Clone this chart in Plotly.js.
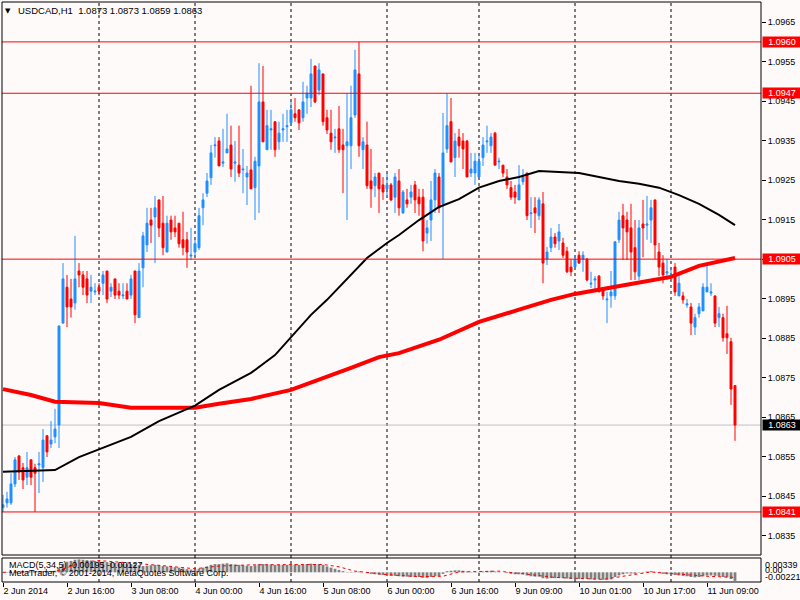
<!DOCTYPE html>
<html>
<head>
<meta charset="utf-8">
<script src="https://cdn.plot.ly/plotly-3.0.1.min.js"></script>
<style>html,body{margin:0;padding:0;background:#fffafa;}#chart{width:800px;height:600px;}</style>
</head>
<body>
<div id="chart"></div>
<script>
// ---- Data: USDCAD H1 bars (bar index 0 = 2 Jun 2014 00:00) ----
const barOpen = [
1.08421,1.08433,1.08433,1.08481,1.08552,1.08522,1.08498,1.08542,1.08522,1.08529,
1.08522,1.08603,1.08582,1.08600,1.08630,1.08888,1.08979,1.08949,1.08939,1.09020,
1.09010,1.09000,1.08969,1.08967,1.08979,1.08989,1.09020,1.08969,1.09000,1.08969,
1.08957,1.08969,1.08959,1.09020,1.08902,1.09028,1.09086,1.09149,1.09157,1.09200,
1.09141,1.09068,1.09149,1.09129,1.09141,1.09099,1.09099,1.09058,1.09068,1.09079,
1.09180,1.09217,1.09256,1.09337,1.09349,1.09293,1.09319,1.09339,1.09293,1.09288,
1.09276,1.09258,1.09276,1.09231,1.09286,1.09448,1.09327,1.09377,1.09398,1.09347,
1.09377,1.09385,1.09395,1.09418,1.09428,1.09408,1.09458,1.09458,1.09539,1.09478,
1.09519,1.09408,1.09369,1.09357,1.09380,1.09339,1.09337,1.09337,1.09415,1.09519,
1.09327,1.09339,1.09248,1.09236,1.09268,1.09238,1.09228,1.09238,1.09207,1.09248,
1.09167,1.09200,1.09207,1.09238,1.09207,1.09207,1.09116,1.09149,1.09200,1.09258,
1.09190,1.09329,1.09398,1.09307,1.09359,1.09349,1.09349,1.09268,1.09268,1.09258,
1.09307,1.09347,1.09337,1.09369,1.09296,1.09288,1.09258,1.09231,1.09220,1.09200,
1.09246,1.09268,1.09165,1.09180,1.09160,1.09190,1.09050,1.09079,1.09106,1.09096,
1.09091,1.09070,1.09030,1.09030,1.09060,1.09050,1.09050,1.08987,1.08997,1.09007,
1.08977,1.08947,1.08957,1.08957,1.09099,1.09160,1.09149,1.09129,1.09079,1.09007,
1.09139,1.09136,1.09149,1.09200,1.09068,1.09040,1.09015,1.09005,1.09030,1.08957,
1.08957,1.08934,1.08929,1.08878,1.08912,1.08919,1.08967,1.08964,1.08957,1.08902,
1.08902,1.08861,1.08841,1.08730];
const barHigh = [
1.08453,1.08461,1.08508,1.08549,1.08552,1.08534,1.08562,1.08542,1.08532,1.08562,
1.08620,1.08603,1.08640,1.08671,1.08881,1.09040,1.09010,1.09000,1.09109,1.09040,
1.09020,1.09020,1.09010,1.08989,1.08989,1.09020,1.09020,1.08989,1.09000,1.08989,
1.08989,1.08989,1.09010,1.09020,1.09040,1.09119,1.09180,1.09180,1.09210,1.09200,
1.09210,1.09160,1.09160,1.09160,1.09141,1.09170,1.09119,1.09129,1.09099,1.09180,
1.09217,1.09268,1.09339,1.09359,1.09359,1.09380,1.09418,1.09388,1.09349,1.09388,
1.09329,1.09286,1.09489,1.09309,1.09546,1.09539,1.09428,1.09428,1.09398,1.09398,
1.09418,1.09428,1.09448,1.09458,1.09428,1.09499,1.09489,1.09557,1.09539,1.09546,
1.09519,1.09428,1.09428,1.09380,1.09438,1.09380,1.09470,1.09489,1.09580,1.09600,
1.09359,1.09398,1.09329,1.09268,1.09268,1.09258,1.09268,1.09243,1.09268,1.09278,
1.09225,1.09228,1.09238,1.09248,1.09228,1.09228,1.09149,1.09248,1.09278,1.09268,
1.09420,1.09470,1.09458,1.09369,1.09380,1.09369,1.09352,1.09319,1.09319,1.09319,
1.09359,1.09388,1.09369,1.09372,1.09307,1.09288,1.09278,1.09248,1.09238,1.09288,
1.09278,1.09268,1.09207,1.09207,1.09207,1.09220,1.09081,1.09129,1.09116,1.09139,
1.09104,1.09081,1.09050,1.09060,1.09070,1.09070,1.09053,1.09018,1.09007,1.09010,
1.08977,1.08967,1.09020,1.09094,1.09170,1.09190,1.09170,1.09190,1.09149,1.09149,
1.09200,1.09210,1.09200,1.09200,1.09091,1.09060,1.09050,1.09030,1.09040,1.09018,
1.08967,1.08949,1.08939,1.08912,1.08939,1.08989,1.09040,1.08989,1.08957,1.08929,
1.08912,1.08932,1.08851,1.08730];
const barLow = [
1.08410,1.08421,1.08428,1.08473,1.08491,1.08468,1.08478,1.08478,1.08410,1.08458,
1.08486,1.08549,1.08572,1.08584,1.08572,1.08888,1.08878,1.08902,1.08922,1.08979,
1.08959,1.08939,1.08939,1.08959,1.08959,1.08959,1.08939,1.08954,1.08949,1.08949,
1.08949,1.08949,1.08949,1.08888,1.08902,1.08979,1.09068,1.09091,1.09040,1.09106,
1.09060,1.09068,1.09099,1.09106,1.09079,1.09060,1.09028,1.09048,1.09055,1.09073,
1.09136,1.09207,1.09238,1.09307,1.09286,1.09283,1.09319,1.09258,1.09246,1.09258,
1.09217,1.09187,1.09228,1.09149,1.09167,1.09347,1.09327,1.09327,1.09309,1.09327,
1.09347,1.09347,1.09388,1.09398,1.09377,1.09398,1.09418,1.09435,1.09445,1.09465,
1.09388,1.09367,1.09327,1.09319,1.09319,1.09217,1.09149,1.09278,1.09408,1.09309,
1.09278,1.09228,1.09180,1.09207,1.09167,1.09200,1.09207,1.09197,1.09167,1.09160,
1.09165,1.09180,1.09190,1.09167,1.09160,1.09070,1.09089,1.09096,1.09167,1.09167,
1.09050,1.09319,1.09296,1.09258,1.09307,1.09278,1.09258,1.09258,1.09238,1.09256,
1.09286,1.09319,1.09319,1.09288,1.09278,1.09258,1.09228,1.09200,1.09190,1.09200,
1.09238,1.09149,1.09129,1.09116,1.09149,1.08989,1.09035,1.09068,1.09079,1.09073,
1.09053,1.09015,1.09007,1.09028,1.09038,1.09018,1.08994,1.08977,1.08967,1.08967,
1.08947,1.08888,1.08927,1.08947,1.09091,1.09048,1.09048,1.08997,1.08997,1.08997,
1.09055,1.09099,1.09091,1.09050,1.09007,1.08989,1.08997,1.08997,1.08957,1.08957,
1.08937,1.08927,1.08858,1.08858,1.08902,1.08919,1.08967,1.08957,1.08878,1.08878,
1.08841,1.08810,1.08681,1.08590];
const barClose = [
1.08428,1.08443,1.08481,1.08542,1.08511,1.08491,1.08522,1.08498,1.08508,1.08532,
1.08592,1.08562,1.08592,1.08620,1.08881,1.09000,1.08929,1.08929,1.09000,1.09010,
1.08979,1.08959,1.08979,1.08969,1.08969,1.09010,1.08949,1.08979,1.08959,1.08959,
1.08959,1.08949,1.09000,1.08909,1.09020,1.09109,1.09141,1.09136,1.09180,1.09129,
1.09079,1.09141,1.09119,1.09119,1.09089,1.09079,1.09068,1.09060,1.09089,1.09160,
1.09200,1.09248,1.09319,1.09339,1.09286,1.09296,1.09329,1.09278,1.09296,1.09268,
1.09278,1.09268,1.09228,1.09298,1.09448,1.09347,1.09388,1.09380,1.09327,1.09369,
1.09380,1.09388,1.09428,1.09408,1.09395,1.09448,1.09470,1.09519,1.09448,1.09529,
1.09398,1.09377,1.09347,1.09359,1.09327,1.09327,1.09347,1.09408,1.09529,1.09337,
1.09347,1.09236,1.09228,1.09258,1.09228,1.09220,1.09238,1.09200,1.09258,1.09180,
1.09220,1.09190,1.09220,1.09200,1.09190,1.09096,1.09129,1.09200,1.09268,1.09180,
1.09319,1.09388,1.09296,1.09349,1.09337,1.09329,1.09258,1.09278,1.09298,1.09298,
1.09339,1.09349,1.09359,1.09288,1.09298,1.09268,1.09238,1.09207,1.09207,1.09238,
1.09258,1.09160,1.09167,1.09167,1.09200,1.09040,1.09068,1.09106,1.09089,1.09119,
1.09060,1.09018,1.09018,1.09050,1.09040,1.09060,1.08997,1.08989,1.09000,1.08967,
1.08957,1.08949,1.08967,1.09094,1.09149,1.09129,1.09119,1.09068,1.09018,1.09129,
1.09129,1.09139,1.09180,1.09086,1.09030,1.09010,1.09018,1.09010,1.08967,1.08989,
1.08947,1.08937,1.08888,1.08902,1.08929,1.08979,1.08979,1.08967,1.08888,1.08912,
1.08851,1.08851,1.08721,1.08630];

// Moving averages (read at selected bars)
const maFastIdx = [0,13,19,24,32,39,48,54,62,68,72,77,81,91,96,99,104,109,114,119,124,129,134,139,144,149,154,159,164,169,174,179,183];
const maFastVal = [1.08512,1.08516,1.08549,1.08569,1.08600,1.08640,1.08679,1.08719,1.08762,1.08807,1.08853,1.08909,1.08947,1.09053,1.09091,1.09111,1.09149,1.09182,1.09202,1.09231,1.09248,1.09258,1.09273,1.09271,1.09268,1.09258,1.09248,1.09241,1.09231,1.09212,1.09190,1.09162,1.09136];
const maSlowIdx = [0,7,13,24,32,48,54,62,72,79,87,94,99,109,119,129,137,143,149,158,167,174,183];
const maSlowVal = [1.08721,1.08706,1.08689,1.08686,1.08674,1.08674,1.08684,1.08696,1.08719,1.08744,1.08775,1.08802,1.08812,1.08846,1.08891,1.08922,1.08947,1.08962,1.08972,1.08989,1.09005,1.09033,1.09053];

// MACD(5,34,5) histogram, one value per bar
const macdMain = [
-0.0001,-0.0001,0.0000,0.0001,0.0002,0.0002,0.0002,0.0002,0.0001,0.0002,0.0003,0.0003,0.0003,0.0004,
0.0012,0.0022,0.0027,0.0029,0.0032,0.0033,0.0032,0.0031,0.0030,0.0029,0.0028,
0.0027,0.0026,0.0025,0.0024,0.0023,0.0022,0.0021,0.0021,0.0020,0.0018,
0.0016,0.0017,0.0018,0.0019,0.0018,0.0016,0.0015,0.0014,
0.0013,0.0012,0.0010,0.0008,0.0007,0.0007,
0.0009,0.0012,0.0015,0.0019,0.0021,0.0021,0.0022,0.0023,
0.0021,0.0020,0.0019,0.0018,0.0017,0.0016,0.0018,0.0021,0.0021,0.0020,0.0020,0.0019,0.0019,0.0019,0.0019,0.0020,0.0020,0.0019,0.0020,0.0021,0.0022,0.0021,0.0021,0.0019,
0.0015,0.0012,0.0009,0.0006,0.0003,0.0001,
-0.0001,0.0001,0.0002,0.0000,-0.0002,-0.0004,-0.0005,-0.0006,-0.0007,-0.0008,
-0.0009,-0.0009,-0.0010,-0.0011,-0.0011,-0.0012,-0.0012,-0.0012,-0.0014,-0.0014,-0.0012,-0.0010,-0.0010,
-0.0004,0.0003,0.0004,0.0005,0.0005,0.0004,0.0002,0.0001,0.0001,
0.0001,0.0002,0.0003,0.0004,0.0002,0.0001,0.0000,-0.0002,-0.0004,-0.0005,
-0.0005,-0.0005,-0.0008,-0.0010,-0.0011,-0.0011,-0.0015,-0.0016,-0.0015,-0.0015,-0.0014,-0.0015,
-0.0016,-0.0017,-0.0017,-0.0017,-0.0016,-0.0017,-0.0018,-0.0018,-0.0018,-0.0019,-0.0019,-0.0018,
-0.0012,-0.0008,-0.0005,-0.0003,-0.0003,-0.0004,-0.0001,0.0001,0.0002,0.0003,0.0001,-0.0002,-0.0004,-0.0005,
-0.0005,-0.0007,-0.0008,-0.0009,-0.0010,-0.0012,-0.0013,-0.0012,-0.0010,-0.0008,-0.0008,-0.0009,-0.0010,-0.0012,-0.0013,-0.0017,-0.0022];
const macdSignalIdx = [0,13,16,20,24,32,40,48,54,62,80,84,88,96,104,110,114,124,130,138,150,156,162,168,176,183];
const macdSignalVal = [0.0000,0.0002,0.0012,0.0026,0.0030,0.0024,0.0017,0.0009,0.0016,0.0019,0.0020,0.0014,0.0003,-0.0006,-0.0011,-0.0010,0.0001,0.0003,-0.0004,-0.0013,-0.0018,-0.0008,0.0001,-0.0004,-0.0010,-0.0013];

// Levels and labels
const levelLines = [1.0960, 1.0947, 1.0905, 1.0841];
const bidPrice = 1.0863;
const separatorIdx = [24, 48, 72, 96, 119, 143, 167];
const timeTickIdx = [0,16,32,48,64,80,96,112,128,144,160,176];
const timeTickText = ['2 Jun 2014','2 Jun 16:00','3 Jun 08:00','4 Jun 00:00','4 Jun 16:00','5 Jun 08:00','6 Jun 00:00','6 Jun 16:00','9 Jun 09:00','10 Jun 01:00','10 Jun 17:00','11 Jun 09:00'];
const priceTicks = [1.0835,1.0845,1.0855,1.0865,1.0875,1.0885,1.0895,1.0905,1.0915,1.0925,1.0935,1.0945,1.0955,1.0965];
const macdLabels = ['0.00339','0.00','-0.00221'];

const FONT = 'Liberation Sans, Arial, sans-serif';
const idx = barOpen.map((_, i) => i);

const traces = [
  {
    type: 'candlestick', x: idx, open: barOpen, high: barHigh, low: barLow, close: barClose,
    xaxis: 'x', yaxis: 'y',
    increasing: {line: {color: '#1e90ff', width: 1}, fillcolor: '#1e90ff'},
    decreasing: {line: {color: '#ff0000', width: 1}, fillcolor: '#ff0000'},
    whiskerwidth: 0, hoverinfo: 'skip'
  },
  {type: 'scatter', mode: 'lines', x: maSlowIdx, y: maSlowVal, xaxis: 'x', yaxis: 'y',
   line: {color: '#ff0000', width: 4}, hoverinfo: 'skip'},
  {type: 'scatter', mode: 'lines', x: maFastIdx, y: maFastVal, xaxis: 'x', yaxis: 'y',
   line: {color: '#000000', width: 2}, hoverinfo: 'skip'},
  {type: 'bar', x: idx, y: macdMain, xaxis: 'x', yaxis: 'y2',
   marker: {color: '#808080', line: {width: 0}}, hoverinfo: 'skip'},
  {type: 'scatter', mode: 'lines', x: macdSignalIdx, y: macdSignalVal, xaxis: 'x', yaxis: 'y2',
   line: {color: '#ff0000', width: 1, dash: 'dot'}, hoverinfo: 'skip'}
];

const shapes = [];
separatorIdx.forEach(i => shapes.push({
  type: 'line', xref: 'x', yref: 'paper', x0: i, x1: i, y0: 0, y1: 1,
  line: {color: '#000', width: 1, dash: '3px,3px'}, layer: 'below'
}));
levelLines.forEach(p => shapes.push({
  type: 'line', xref: 'paper', yref: 'y', x0: 0, x1: 1, y0: p, y1: p,
  line: {color: '#ff0000', width: 1}
}));
shapes.push({type: 'line', xref: 'paper', yref: 'y', x0: 0, x1: 1, y0: bidPrice, y1: bidPrice,
  line: {color: '#c0c0c0', width: 1}, layer: 'below'});
const MAIN_DOM = [0.04655, 1];
const MACD_DOM = [0, 0.04138];
shapes.push({type: 'rect', xref: 'paper', yref: 'paper', x0: 0, x1: 1, y0: MAIN_DOM[0], y1: MAIN_DOM[1],
  line: {color: '#000', width: 1}});
shapes.push({type: 'rect', xref: 'paper', yref: 'paper', x0: 0, x1: 1, y0: MACD_DOM[0], y1: MACD_DOM[1],
  line: {color: '#000', width: 1}});

const annotations = [];
levelLines.forEach(p => annotations.push({
  xref: 'paper', x: 1, xanchor: 'left', xshift: 1, yref: 'y', y: p, yanchor: 'middle',
  text: p.toFixed(4), showarrow: false, bgcolor: '#ff0000', width: 38, height: 10,
  borderpad: 0, align: 'center', font: {family: FONT, size: 9, color: '#ffffff'}
}));
annotations.push({
  xref: 'paper', x: 1, xanchor: 'left', xshift: 1, yref: 'y', y: bidPrice, yanchor: 'middle',
  text: bidPrice.toFixed(4), showarrow: false, bgcolor: '#000000', width: 38, height: 10,
  borderpad: 0, align: 'center', font: {family: FONT, size: 9, color: '#ffffff'}
});
annotations.push({xref: 'paper', x: 0.0066, xanchor: 'left', yref: 'paper', y: 0.02845, yanchor: 'middle',
  text: 'MACD(5,34,5) -0.00195 -0.00127', showarrow: false, font: {family: FONT, size: 9, color: '#000'}});
annotations.push({xref: 'paper', x: 0.0066, xanchor: 'left', yref: 'paper', y: 0.01466, yanchor: 'middle',
  text: 'MetaTrader, © 2001-2014, MetaQuotes Software Corp.', showarrow: false, font: {family: FONT, size: 9, color: '#000'}});
const macdLabelY = [0.03017, 0.02155, 0.00948];
macdLabels.forEach((t, k) => annotations.push({xref: 'paper', x: 1, xanchor: 'left', xshift: 2, yref: 'paper',
  y: macdLabelY[k], yanchor: 'middle', text: t, showarrow: false, font: {family: FONT, size: 9, color: '#000'}}));
annotations.push({xref: 'paper', x: 0.0079, xanchor: 'center', yref: 'paper', y: 0.9845, yanchor: 'middle',
  text: '▼', showarrow: false, font: {family: 'DejaVu Sans', size: 7, color: '#000'}});

const layout = {
  width: 800, height: 600,
  paper_bgcolor: '#fffafa', plot_bgcolor: '#fffafa',
  margin: {l: 2, r: 39, t: 2, b: 18, pad: 0},
  showlegend: false, hovermode: false, dragmode: false,
  bargap: 0.3,
  title: {text: 'USDCAD,H1\u00a0\u00a01.0873 1.0873 1.0859 1.0863', x: 0.0225, xanchor: 'left', xref: 'container',
          y: 0.9817, yanchor: 'middle', yref: 'container', font: {family: FONT, size: 9.5, color: '#000'}},
  xaxis: {
    range: [-0.25, 189.5], anchor: 'y2', showgrid: false, zeroline: false, showline: false,
    tickmode: 'array', tickvals: timeTickIdx, ticktext: timeTickText,
    ticks: 'outside', ticklen: 4, tickcolor: '#000', ticklabelposition: 'outside right',
    tickfont: {family: FONT, size: 9, color: '#000'}, rangeslider: {visible: false}, fixedrange: true
  },
  yaxis: {
    domain: MAIN_DOM, range: [1.08301, 1.09701], side: 'right', anchor: 'x',
    tickmode: 'array', tickvals: priceTicks, tickformat: '.4f',
    ticks: 'outside', ticklen: 4, tickcolor: '#000', showgrid: false, zeroline: false, showline: false,
    tickfont: {family: FONT, size: 9, color: '#000'}, fixedrange: true
  },
  yaxis2: {
    domain: MACD_DOM, range: [-0.00247, 0.00365], anchor: 'x', side: 'right',
    showticklabels: false, ticks: '', showgrid: false, zeroline: false, showline: false, fixedrange: true
  },
  shapes: shapes,
  annotations: annotations
};

Plotly.newPlot('chart', traces, layout, {displayModeBar: false, staticPlot: true});
</script>
</body>
</html>
